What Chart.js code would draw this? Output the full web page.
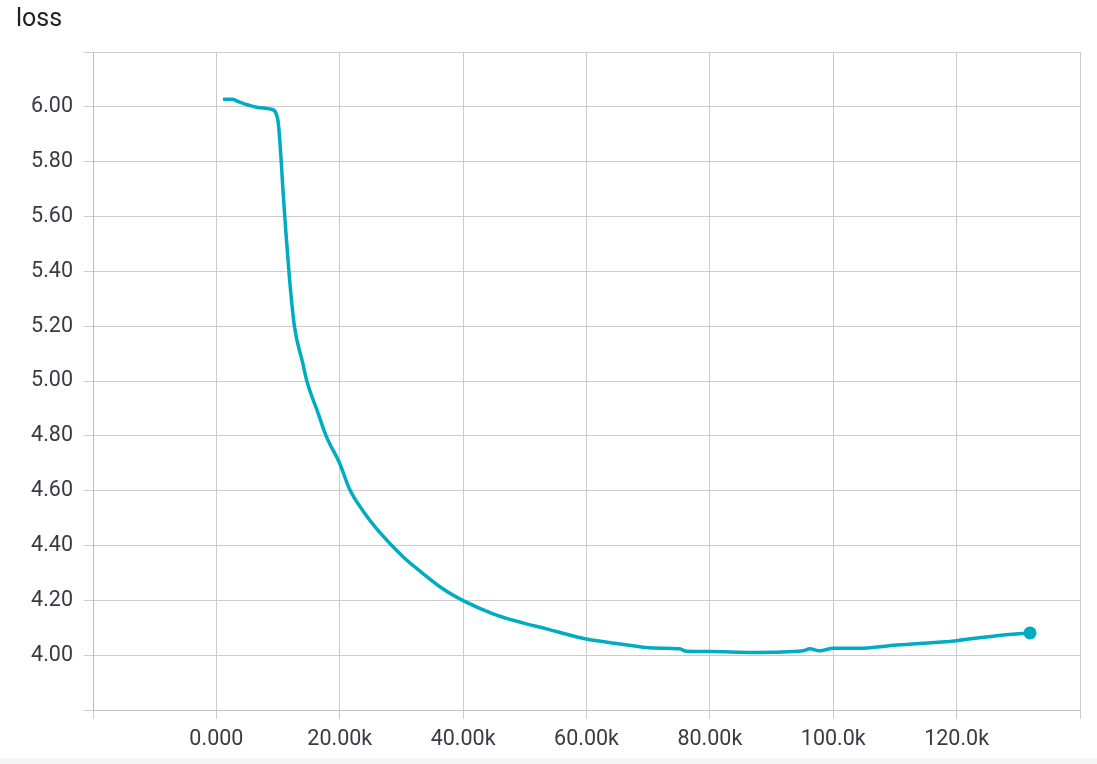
<!DOCTYPE html>
<html>
<head>
<meta charset="utf-8">
<script src="https://cdn.jsdelivr.net/npm/chart.js@4"></script>
<style>
    html, body { margin: 0; padding: 0; background: #f5f5f5; }
    #wrap { position: relative; width: 1097px; height: 758px; background: #fff; }
    #title { position: absolute; left: 16px; top: 5px; font: 25px/25px Roboto, sans-serif; color: #212121; }
    #lossChart { position: absolute; left: 0; top: 0; }
</style>
</head>
<body>
<div id="wrap">
    <canvas id="lossChart" width="1097" height="758"></canvas>
    <div id="title">loss</div>
</div>
<script>
// training steps and smoothed loss
const steps = [1070, 2590, 3450, 5400, 7020, 8920, 9940, 10900, 11240, 11840, 12650,
    14000, 14700, 16500, 17800, 20000, 21600, 23800, 26200, 30300, 31900, 36700, 40000,
    44850, 48500, 53500, 60000, 65400, 70800, 75100, 76200, 80000, 87000, 95100, 96200,
    97800, 100000, 103800, 110300, 120000, 126500, 131900];
const loss = [6.028, 6.028, 6.020, 6.005, 5.997, 5.991, 5.955, 5.662, 5.550, 5.377, 5.200,
    5.065, 4.997, 4.882, 4.799, 4.699, 4.605, 4.525, 4.455, 4.358, 4.327, 4.242, 4.199,
    4.151, 4.125, 4.096, 4.059, 4.041, 4.026, 4.023, 4.014, 4.013, 4.010, 4.016, 4.023,
    4.016, 4.025, 4.025, 4.037, 4.053, 4.071, 4.081];

const xMin = -20000, xMax = 140000, xStep = 20000;
const yMin = 3.8, yMax = 6.2, yStep = 0.2;

const lineColor = '#00acc1';
const gridColor = '#cccccc';
const labelColor = '#3a3a44';

const points = steps.map((s, i) => ({ x: s, y: loss[i] }));

function xLabel(v) {
    if (v <= xMin || v >= xMax) return '';
    if (v === 0) return '0.000';
    const k = v / 1000;
    return (k >= 100 ? k.toFixed(1) : k.toFixed(2)) + 'k';
}

function yLabel(v) {
    if (Math.abs(v - yMin) < 1e-6 || Math.abs(v - yMax) < 1e-6) return '';
    return v.toFixed(2);
}

const ctx = document.getElementById('lossChart').getContext('2d');

const lossChart = new Chart(ctx, {
    type: 'line',
    data: {
        datasets: [{
            label: 'loss',
            data: points,
            borderColor: lineColor,
            backgroundColor: lineColor,
            borderWidth: 3.5,
            fill: false,
            cubicInterpolationMode: 'monotone',
            pointRadius: c => c.dataIndex === points.length - 1 ? 6.5 : 0,
            pointHoverRadius: 0,
            pointBorderWidth: 0
        }]
    },
    options: {
        responsive: false,
        animation: false,
        events: [],
        layout: { padding: { top: 52, right: 17, bottom: 0, left: 0 } },
        plugins: {
            legend: { display: false },
            tooltip: { enabled: false }
        },
        scales: {
            x: {
                type: 'linear',
                min: xMin,
                max: xMax,
                afterFit: s => { s.height = 48; },
                ticks: {
                    stepSize: xStep,
                    autoSkip: false,
                    maxRotation: 0,
                    padding: 8,
                    color: labelColor,
                    font: { family: 'Roboto', size: 21.5 },
                    callback: xLabel
                },
                grid: { color: gridColor, lineWidth: 1, tickLength: 9 },
                border: { color: '#c4c4c4' }
            },
            y: {
                min: yMin,
                max: yMax,
                afterFit: s => { s.width = 93; },
                ticks: {
                    stepSize: yStep,
                    autoSkip: false,
                    padding: 11,
                    color: labelColor,
                    font: { family: 'Roboto', size: 21.5 },
                    callback: yLabel
                },
                grid: { color: gridColor, lineWidth: 1, tickLength: 9 },
                border: { color: '#bdbdbd' }
            }
        }
    }
});
</script>
</body>
</html>
